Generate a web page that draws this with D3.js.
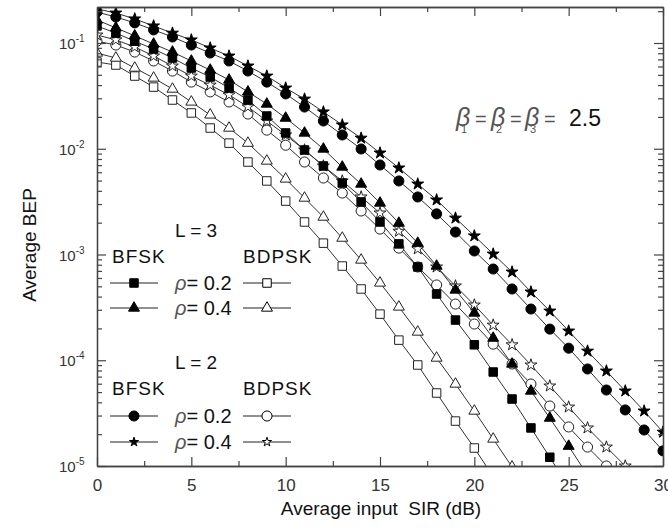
<!DOCTYPE html>
<html lang="en">
<head>
<meta charset="UTF-8">
<title>Average BEP vs SIR</title>
<script src="https://d3js.org/d3.v7.min.js"></script>
<style>
  body { margin: 0; background: #fff; }
  svg text { font-family: "Liberation Sans", Arial, sans-serif; }
</style>
</head>
<body>
<div id="chart"></div>
<script>
// average input SIR (dB), one marker per dB
const sir = [0,1,2,3,4,5,6,7,8,9,10,11,12,13,14,15,16,17,18,19,20,21,22,23,24,25,26,27,28,29,30];

// L = 3
const bfskL3r02 = [0.145,0.124,0.104,0.0877,0.0721,0.058,0.0477,0.0375,0.0289,0.0204,0.0141,0.00973,0.00687,0.00474,0.00314,0.00203,0.00126,7.62e-4,4.23e-4,2.40e-4,1.40e-4,7.74e-5,4.30e-5,2.29e-5,1.21e-5,6.3e-6];
const bfskL3r04 = [0.165,0.139,0.117,0.0978,0.0822,0.0676,0.0555,0.0447,0.0345,0.0265,0.0195,0.0141,0.00995,0.00672,0.00464,0.00307,0.00198,0.00128,7.78e-4,4.62e-4,2.80e-4,1.62e-4,9.22e-5,5.12e-5,2.84e-5,1.54e-5,8.2e-6];
const bdpskL3r02 = [0.0661,0.0619,0.0487,0.0383,0.0289,0.0218,0.0157,0.0113,0.00749,0.00496,0.0032,0.00203,0.00128,7.78e-4,4.72e-4,2.73e-4,1.55e-4,9.02e-5,4.90e-5,2.66e-5,1.48e-5,7.9e-6];
const bdpskL3r04 = [0.0804,0.0721,0.058,0.0467,0.0367,0.0277,0.0209,0.0157,0.0113,0.00766,0.00518,0.00342,0.00226,0.00143,8.87e-4,5.38e-4,3.19e-4,1.85e-4,1.05e-4,5.96e-5,3.31e-5,1.80e-5,9.8e-6];

// L = 2
const bfskL2r02 = [0.196,0.176,0.155,0.133,0.114,0.0957,0.0804,0.0676,0.0543,0.0427,0.033,0.0248,0.0183,0.0135,0.00995,0.00702,0.00496,0.0035,0.00242,0.00163,0.00108,7.29e-4,4.72e-4,3.05e-4,1.97e-4,1.30e-4,8.27e-5,5.23e-5,3.39e-5,2.19e-5,1.39e-5];
const bfskL2r04 = [0.21,0.192,0.169,0.145,0.124,0.107,0.0897,0.0753,0.0606,0.0487,0.0375,0.0295,0.0223,0.0168,0.0126,0.00912,0.00658,0.00464,0.00328,0.00221,0.0015,0.00101,6.83e-4,4.42e-4,2.92e-4,1.89e-4,1.22e-4,7.91e-5,5.12e-5,3.31e-5,2.09e-5];
const bdpskL2r02 = [0.104,0.0957,0.0822,0.0676,0.0543,0.0427,0.0345,0.0277,0.0213,0.015,0.0108,0.00749,0.00529,0.00381,0.00258,0.00174,0.00115,7.62e-4,5.15e-4,3.40e-4,2.20e-4,1.42e-4,9.22e-5,5.96e-5,3.69e-5,2.34e-5,1.51e-5,1.0e-5];
const bdpskL2r04 = [0.119,0.107,0.0917,0.0753,0.0606,0.0487,0.04,0.0323,0.0249,0.0183,0.0135,0.00973,0.00687,0.00496,0.0035,0.00247,0.00166,0.00113,7.62e-4,5.04e-4,3.33e-4,2.15e-4,1.40e-4,9.02e-5,5.71e-5,3.61e-5,2.29e-5,1.51e-5,1.0e-5];

const xMajor = [0,5,10,15,20,25,30];
const xMinor = [2.5,7.5,12.5,17.5,22.5,27.5];
const yMajor = [1e-5,1e-4,1e-3,1e-2,1e-1];
const yExp = ["-5","-4","-3","-2","-1"];

const width = 668, height = 531;
const pLeft = 97, pRight = 663, pTop = 7, pBottom = 466;

const x = d3.scaleLinear().domain([0, 30]).range([pLeft, pRight]);
const y = d3.scaleLog().domain([1e-5, 0.219]).range([pBottom, pTop]);

const svg = d3.select("#chart").append("svg")
    .attr("width", width)
    .attr("height", height);

svg.append("clipPath").attr("id", "plot")
  .append("rect").attr("x", pLeft).attr("y", pTop)
  .attr("width", pRight - pLeft).attr("height", pBottom - pTop);

// shapes
const sq = d3.symbol().type(d3.symbolSquare).size(72);
const tri = d3.symbol().type(d3.symbolTriangle).size(52);
const circ = d3.symbol().type(d3.symbolCircle).size(80);
const star = d3.symbol().type(d3.symbolStar).size(44);
const starSmall = d3.symbol().type(d3.symbolStar).size(26);

const series = [
  {vals: bdpskL3r02, shape: sq, fill: "#fff"},
  {vals: bdpskL3r04, shape: tri, fill: "#fff"},
  {vals: bdpskL2r02, shape: circ, fill: "#fff"},
  {vals: bdpskL2r04, shape: star, fill: "#fff"},
  {vals: bfskL3r02, shape: sq, fill: "#000"},
  {vals: bfskL3r04, shape: tri, fill: "#000"},
  {vals: bfskL2r02, shape: circ, fill: "#000"},
  {vals: bfskL2r04, shape: star, fill: "#000"}
];

const line = d3.line()
    .x((d, i) => x(sir[i]))
    .y(d => y(d));

const plot = svg.append("g").attr("clip-path", "url(#plot)");

series.forEach(s => {
  plot.append("path")
    .attr("d", line(s.vals))
    .attr("fill", "none")
    .attr("stroke", "#333")
    .attr("stroke-width", 1);
});
series.forEach(s => {
  plot.selectAll(null)
    .data(s.vals)
    .join("path")
    .attr("transform", (d, i) => `translate(${x(sir[i])},${y(d)})`)
    .attr("d", s.shape)
    .attr("fill", s.fill)
    .attr("stroke", s.fill == "#000" ? "#000" : "#222")
    .attr("stroke-width", 1);
});

// axes, ticks pointing inward
function styleAxis(g) {
  g.select(".domain").attr("stroke", "#444").attr("stroke-width", 1.3);
  g.selectAll(".tick line").attr("stroke", "#444").attr("stroke-width", 1.2);
}
const yMinor = [];
yMajor.forEach(b => [2,3,4,5,6,7,8,9].forEach(k => { if (b*k < 0.219) yMinor.push(b*k); }));

svg.append("g").attr("transform", `translate(0,${pBottom})`)
  .call(d3.axisBottom(x).tickValues(xMajor).tickSize(-9).tickPadding(13).tickSizeOuter(0))
  .call(styleAxis)
  .call(g => g.selectAll("text").attr("font-size", 17).attr("fill", "#333").attr("font-family", "Liberation Sans, Arial, sans-serif"));
svg.append("g").attr("transform", `translate(0,${pBottom})`)
  .call(d3.axisBottom(x).tickValues(xMinor).tickSize(-5).tickFormat("").tickSizeOuter(0))
  .call(styleAxis);
svg.append("g").attr("transform", `translate(0,${pTop})`)
  .call(d3.axisTop(x).tickValues(xMajor).tickSize(-9).tickFormat("").tickSizeOuter(0))
  .call(styleAxis);
svg.append("g").attr("transform", `translate(0,${pTop})`)
  .call(d3.axisTop(x).tickValues(xMinor).tickSize(-5).tickFormat("").tickSizeOuter(0))
  .call(styleAxis);

svg.append("g").attr("transform", `translate(${pLeft},0)`)
  .call(d3.axisLeft(y).tickValues(yMajor).tickSize(-9).tickFormat("").tickSizeOuter(0))
  .call(styleAxis);
svg.append("g").attr("transform", `translate(${pLeft},0)`)
  .call(d3.axisLeft(y).tickValues(yMinor).tickSize(-5).tickFormat("").tickSizeOuter(0))
  .call(styleAxis);
svg.append("g").attr("transform", `translate(${pRight},0)`)
  .call(d3.axisRight(y).tickValues(yMajor).tickSize(-9).tickFormat("").tickSizeOuter(0))
  .call(styleAxis);
svg.append("g").attr("transform", `translate(${pRight},0)`)
  .call(d3.axisRight(y).tickValues(yMinor).tickSize(-5).tickFormat("").tickSizeOuter(0))
  .call(styleAxis);

// y tick labels 10^n
yMajor.forEach((v, i) => {
  const t = svg.append("text")
    .attr("x", 59).attr("y", y(v) + 6)
    .attr("fill", "#333").attr("font-size", 15);
  t.append("tspan").text("10");
  t.append("tspan").attr("dy", -7).attr("font-size", 10).text(yExp[i]);
});

// axis titles
svg.append("text")
  .attr("x", 381).attr("y", 515)
  .attr("text-anchor", "middle")
  .attr("font-size", 19).attr("fill", "#111")
  .style("white-space", "pre")
  .text("Average input  SIR (dB)");
svg.append("text")
  .attr("transform", "translate(36,245) rotate(-90)")
  .attr("text-anchor", "middle")
  .attr("font-size", 19).attr("fill", "#111")
  .text("Average BEP");

// beta annotation
const betaX = [456, 491, 525];
betaX.forEach((bx, i) => {
  svg.append("text").attr("x", bx).attr("y", 126)
    .attr("font-size", 25).attr("font-style", "italic").attr("fill", "#555").text("\u03b2");
  svg.append("text").attr("x", bx + 5).attr("y", 133)
    .attr("font-size", 11).attr("fill", "#555").text(i + 1);
  svg.append("text").attr("x", bx + 19).attr("y", 126)
    .attr("font-size", 20).attr("fill", "#555").text("=");
});
svg.append("text").attr("x", 569).attr("y", 126)
  .attr("font-size", 23).attr("fill", "#111").text("2.5");

// legend blocks
const legendBlocks = [
  {title: "L = 3", top: 237, rows: [
    {y: 283, left: {shape: sq, fill: "#000"}, right: {shape: sq, fill: "#fff"}, rho: "0.2"},
    {y: 308, left: {shape: tri, fill: "#000"}, right: {shape: tri, fill: "#fff"}, rho: "0.4"}]},
  {title: "L = 2", top: 369, rows: [
    {y: 416, left: {shape: circ, fill: "#000"}, right: {shape: circ, fill: "#fff"}, rho: "0.2"},
    {y: 442, left: {shape: starSmall, fill: "#000"}, right: {shape: starSmall, fill: "#fff"}, rho: "0.4"}]}
];

legendBlocks.forEach(b => {
  svg.append("text").attr("x", 175).attr("y", b.top).attr("font-size", 19).attr("fill", "#111").text(b.title);
  svg.append("text").attr("x", 112).attr("y", b.top + 26).attr("font-size", 19).attr("letter-spacing", 1).attr("fill", "#111").text("BFSK");
  svg.append("text").attr("x", 243).attr("y", b.top + 26).attr("font-size", 19).attr("letter-spacing", 1).attr("fill", "#111").text("BDPSK");
  b.rows.forEach(r => {
    [[110, 158, r.left], [243, 291, r.right]].forEach(([a, c, m]) => {
      svg.append("line").attr("x1", a).attr("x2", c).attr("y1", r.y).attr("y2", r.y)
        .attr("stroke", "#222").attr("stroke-width", 1);
      svg.append("path").attr("transform", `translate(${(a + c) / 2},${r.y})`)
        .attr("d", m.shape).attr("fill", m.fill).attr("stroke", "#000").attr("stroke-width", 1);
    });
    const t = svg.append("text").attr("x", 175).attr("y", r.y + 7).attr("font-size", 20).attr("fill", "#111");
    t.append("tspan").attr("font-style", "italic").attr("fill", "#555").text("\u03c1");
    t.append("tspan").text("= " + r.rho);
  });
});
</script>
</body>
</html>
